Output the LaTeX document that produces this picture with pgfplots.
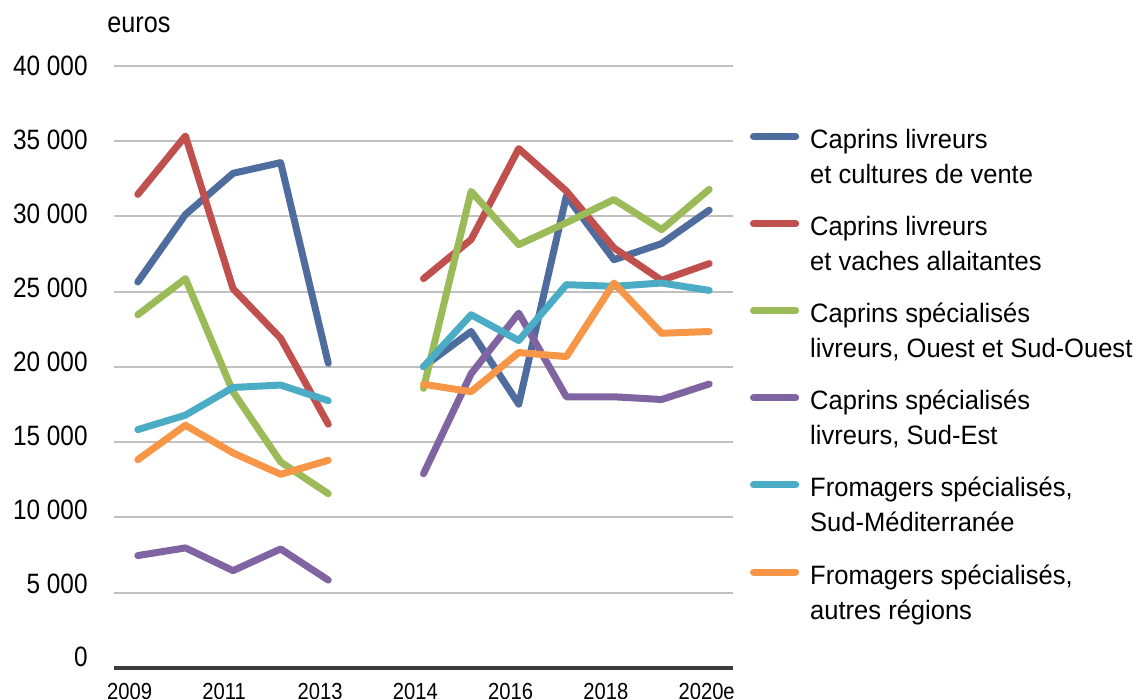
\documentclass[border=0pt]{standalone}
\usepackage{fontspec}
\setmainfont{Liberation Sans}[FakeStretch=0.96]
\newfontfamily\tickfont{Liberation Sans}[FakeStretch=0.87]
\usepackage{pgfplots}
\pgfplotsset{compat=1.18}
\definecolor{cBlue}{RGB}{78,108,158}
\definecolor{cRed}{RGB}{192,80,77}
\definecolor{cGreen}{RGB}{155,187,89}
\definecolor{cPurple}{RGB}{128,100,162}
\definecolor{cCyan}{RGB}{75,172,198}
\definecolor{cOrange}{RGB}{247,150,70}
\definecolor{gridgray}{RGB}{192,192,192}
\definecolor{axisgray}{RGB}{60,60,60}
\newcommand{\lgt}[2]{\begin{tabular}[t]{@{}l@{}}#1\\#2\end{tabular}}
\begin{document}
\begin{tikzpicture}
\useasboundingbox (-57pt,-15.5pt) rectangle (509.5pt,334pt);
\begin{axis}[
  at={(0,0)}, anchor=south west,
  scale only axis, width=309.5pt, height=301pt,
  xmin=-0.5, xmax=12.5, ymin=0, ymax=40000,
  scaled y ticks=false,
  axis line style={draw=none},
  tick style={draw=none},
  major tick length=0pt,
  xtick={0,2,4,6,8,10,12},
  xticklabels={2009,2011,2013,2014,2016,2018,2020e},
  ytick={5000,10000,15000,20000,25000,30000,35000,40000},
  yticklabels={5 000,10 000,15 000,20 000,25 000,30 000,35 000,40 000},
  extra y ticks={0},
  extra y tick labels={0},
  extra y tick style={grid style={draw=axisgray, line width=1.6pt}, yticklabel style={yshift=1.5pt}},
  ymajorgrids,
  grid style={draw=gridgray, line width=1pt},
  yticklabel style={font=\tickfont\fontsize{14}{16}\selectfont, anchor=east, inner sep=0pt, xshift=-13pt, yshift={(7-\ticknum)*0.6pt}},
  xticklabel style={font=\tickfont\fontsize{11.6}{13}\selectfont, anchor=north west, inner sep=0pt, xshift=-15.5pt, yshift=-7.5pt},
  ylabel={euros},
  every axis y label/.style={at={(rel axis cs:0,1)}, anchor=base west, inner sep=0pt, xshift=-3.5pt, yshift=16.5pt, font=\tickfont\fontsize{14.5}{16}\selectfont},
  unbounded coords=jump,
  every axis plot/.append style={line width=3.5pt, line cap=round, line join=round},
  legend image code/.code={\path[draw=none,fill=none] (0pt,0pt) rectangle (24.5pt,6pt); \draw[#1] (1.7pt,6pt) -- (22.8pt,6pt);},
  legend style={draw=none, fill=none, at={(1,1)}, anchor=north west, xshift=8.5pt, yshift=-27pt,
    inner sep=0pt, outer sep=0pt, font=\fontsize{13.3}{17.5}\selectfont,
    cells={anchor=base west, inner sep=0pt, outer sep=0pt}, row sep=25.8pt, column sep=3.5pt},
]
\addplot[cBlue] coordinates {(0,25650) (1,30130) (2,32870) (3,33580) (4,20250) (5,nan) (6,20020) (7,22360) (8,17530) (9,31360) (10,27130) (11,28200) (12,30420)};
\addlegendentry{\lgt{Caprins livreurs}{et cultures de vente}}
\addplot[cRed] coordinates {(0,31470) (1,35350) (2,25200) (3,21910) (4,16200) (5,nan) (6,25870) (7,28470) (8,34510) (9,31690) (10,27910) (11,25760) (12,26870)};
\addlegendentry{\lgt{Caprins livreurs}{et vaches allaitantes}}
\addplot[cGreen] coordinates {(0,23470) (1,25870) (2,18350) (3,13690) (4,11580) (5,nan) (6,18580) (7,31670) (8,28130) (9,29590) (10,31130) (11,29130) (12,31800)};
\addlegendentry{\lgt{Caprins spécialisés}{livreurs, Ouest et Sud-Ouest}}
\addplot[cPurple] coordinates {(0,7470) (1,7980) (2,6470) (3,7910) (4,5840) (5,nan) (6,12910) (7,19550) (8,23580) (9,18020) (10,18020) (11,17840) (12,18870)};
\addlegendentry{\lgt{Caprins spécialisés}{livreurs, Sud-Est}}
\addplot[cCyan] coordinates {(0,15840) (1,16800) (2,18640) (3,18800) (4,17760) (5,nan) (6,20020) (7,23470) (8,21760) (9,25470) (10,25360) (11,25580) (12,25090)};
\addlegendentry{\lgt{Fromagers spécialisés,}{Sud-Méditerranée}}
\addplot[cOrange] coordinates {(0,13840) (1,16130) (2,14290) (3,12870) (4,13800) (5,nan) (6,18850) (7,18360) (8,20960) (9,20690) (10,25580) (11,22240) (12,22360)};
\addlegendentry{\lgt{Fromagers spécialisés,}{autres régions}}
\end{axis}
\end{tikzpicture}
\end{document}
